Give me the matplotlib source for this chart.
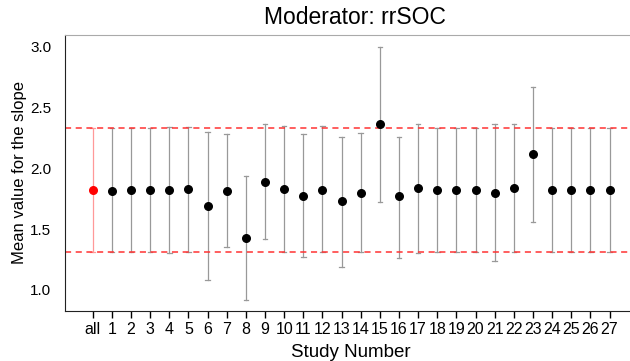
import matplotlib
matplotlib.use("Agg")
import matplotlib.pyplot as plt

labels = ["all"] + [str(i) for i in range(1, 28)]
means = [1.82, 1.81, 1.82, 1.82, 1.82, 1.83, 1.69, 1.81, 1.43, 1.89, 1.83, 1.775, 1.82, 1.73,
         1.80, 2.36, 1.77, 1.84, 1.82, 1.82, 1.82, 1.80, 1.84, 2.115, 1.82, 1.82, 1.82, 1.82]
lower = [1.31, 1.31, 1.31, 1.31, 1.30, 1.31, 1.08, 1.35, 0.92, 1.42, 1.31, 1.27, 1.31, 1.19,
         1.31, 1.72, 1.26, 1.30, 1.31, 1.31, 1.31, 1.24, 1.31, 1.56, 1.31, 1.31, 1.31, 1.31]
upper = [2.33, 2.33, 2.33, 2.33, 2.34, 2.34, 2.30, 2.28, 1.94, 2.36, 2.35, 2.28, 2.35, 2.26,
         2.29, 3.00, 2.26, 2.365, 2.33, 2.33, 2.33, 2.36, 2.36, 2.665, 2.33, 2.33, 2.33, 2.33]
overall_ci = [1.31, 2.33]

plt.rcParams['font.family'] = ['Liberation Sans', 'DejaVu Sans']

fig = plt.figure(figsize=(6.3, 3.61), dpi=100)
ax = fig.add_axes([65/630, 1 - 311/361, 1 - 65/630 + 0.01, (311 - 35)/361])

x = list(range(len(labels)))
for i in x:
    col = '#ff9999' if i == 0 else '#999999'
    ax.plot([i, i], [lower[i], upper[i]], color=col, lw=0.9, zorder=1)
    for yv in (lower[i], upper[i]):
        ax.plot([i - 0.12, i + 0.12], [yv, yv], color=col, lw=0.9, zorder=1)

ax.scatter(x[1:], means[1:], s=30, color='black', zorder=3)
ax.scatter([x[0]], [means[0]], s=30, color='red', zorder=3)

for yv in overall_ci:
    ax.axhline(yv, color='#ff3333', lw=1.1, ls=(0, (4, 3)), zorder=2)

ax.set_xlim(-1.45, 28.4)
ax.set_ylim(0.827, 3.095)
ax.set_xticks(x)
ax.set_xticklabels(labels, fontsize=11.5)
ax.set_yticks([1.0, 1.5, 2.0, 2.5, 3.0])
ax.set_yticklabels(["1.0", "1.5", "2.0", "2.5", "3.0"], fontsize=11)
ax.tick_params(axis='y', length=0, pad=10)
ax.tick_params(axis='x', length=5, width=1, pad=3)
ax.spines['right'].set_visible(False)
ax.spines['top'].set_color('#aaaaaa')
ax.spines['left'].set_color('#222222')
ax.spines['bottom'].set_color('#222222')
ax.set_xlabel("Study Number", fontsize=13.5, labelpad=5)
ax.set_ylabel("Mean value for the slope", fontsize=12, labelpad=2)
fig.text(355/630, 1 - 18/361, "Moderator: rrSOC", ha='center', va='center', fontsize=16.5)

fig.savefig("out.png", dpi=100)
